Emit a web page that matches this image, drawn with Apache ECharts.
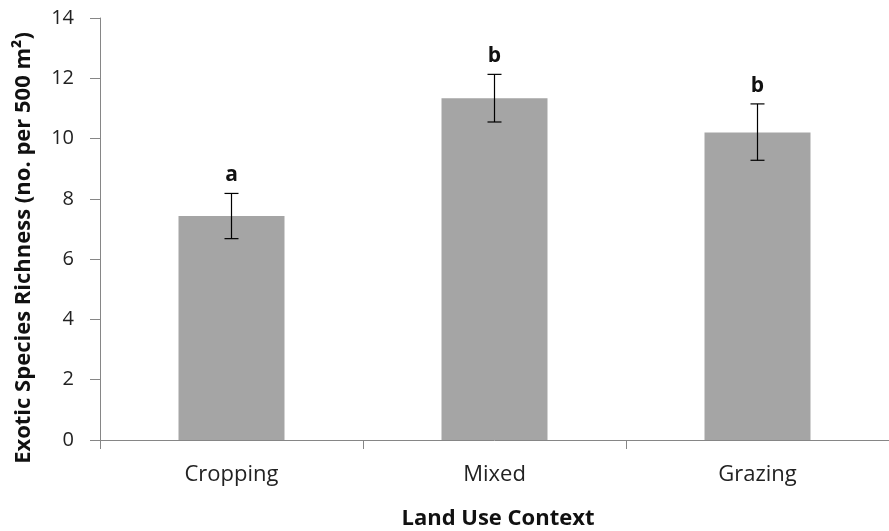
<!DOCTYPE html>
<html>
<head>
<meta charset="utf-8">
<script src="https://cdn.jsdelivr.net/npm/echarts@6/dist/echarts.min.js"></script>
<style>html,body{margin:0;padding:0;background:#fff}#c{width:889px;height:531px}</style>
</head>
<body>
<div id="c"></div>
<script>
const categories = ['Cropping', 'Mixed', 'Grazing'];
const means = [7.43, 11.34, 10.2];
const errHigh = [8.18, 12.13, 11.15];
const errLow = [6.68, 10.55, 9.28];
const letters = ['a', 'b', 'b'];
const yTicks = [0, 2, 4, 6, 8, 10, 12, 14];
const xTitle = 'Land Use Context';
const yTitle = 'Exotic Species Richness (no. per 500 m²)';

const FONT = '"Open Sans", "Liberation Sans", sans-serif';
const chart = echarts.init(document.getElementById('c'));
chart.setOption({
  animation: false,
  grid: { left: 100, right: -12, top: 18, bottom: 91 },
  graphic: [
    { type: 'text', x: 24, y: 248, rotation: Math.PI / 2,
      style: { text: yTitle, fill: '#111', font: 'bold 22px ' + FONT, align: 'center', verticalAlign: 'middle' } },
    { type: 'text', x: 498, y: 519,
      style: { text: xTitle, fill: '#111', font: 'bold 22px ' + FONT, align: 'center', verticalAlign: 'middle' } }
  ],
  xAxis: {
    type: 'category',
    data: categories,
    axisLine: { lineStyle: { color: '#868686', width: 1 } },
    axisTick: { show: true, length: 9, lineStyle: { color: '#868686' } },
    axisLabel: { color: '#222', fontSize: 22, fontFamily: FONT, margin: 24 }
  },
  yAxis: {
    type: 'value',
    min: 0, max: 14, interval: 2,
    axisLine: { show: true, lineStyle: { color: '#868686', width: 1 } },
    axisTick: { show: true, length: 10, lineStyle: { color: '#868686' } },
    splitLine: { show: false },
    axisLabel: { color: '#222', fontSize: 20, fontFamily: FONT, margin: 26,
      formatter: v => yTicks.includes(v) ? String(v) : '' }
  },
  series: [
    {
      type: 'bar',
      data: means,
      barWidth: 106,
      itemStyle: { color: '#A5A5A5' }
    },
    {
      type: 'custom',
      data: categories.map((c, i) => [i, errLow[i], errHigh[i]]),
      renderItem: function (params, api) {
        const i = api.value(0);
        const lo = api.coord([i, api.value(1)]);
        const hi = api.coord([i, api.value(2)]);
        const hw = 7;
        const st = { stroke: '#000', lineWidth: 1.2 };
        return {
          type: 'group',
          children: [
            { type: 'line', shape: { x1: hi[0], y1: hi[1], x2: lo[0], y2: lo[1] }, style: st },
            { type: 'line', shape: { x1: hi[0] - hw, y1: hi[1], x2: hi[0] + hw, y2: hi[1] }, style: st },
            { type: 'line', shape: { x1: lo[0] - hw, y1: lo[1], x2: lo[0] + hw, y2: lo[1] }, style: st },
            { type: 'text', x: hi[0], y: hi[1] - 18,
              style: { text: letters[params.dataIndex], fill: '#111', font: 'bold 21px ' + FONT,
                       align: 'center', verticalAlign: 'middle' } }
          ]
        };
      },
      z: 5
    }
  ]
});
</script>
</body>
</html>
